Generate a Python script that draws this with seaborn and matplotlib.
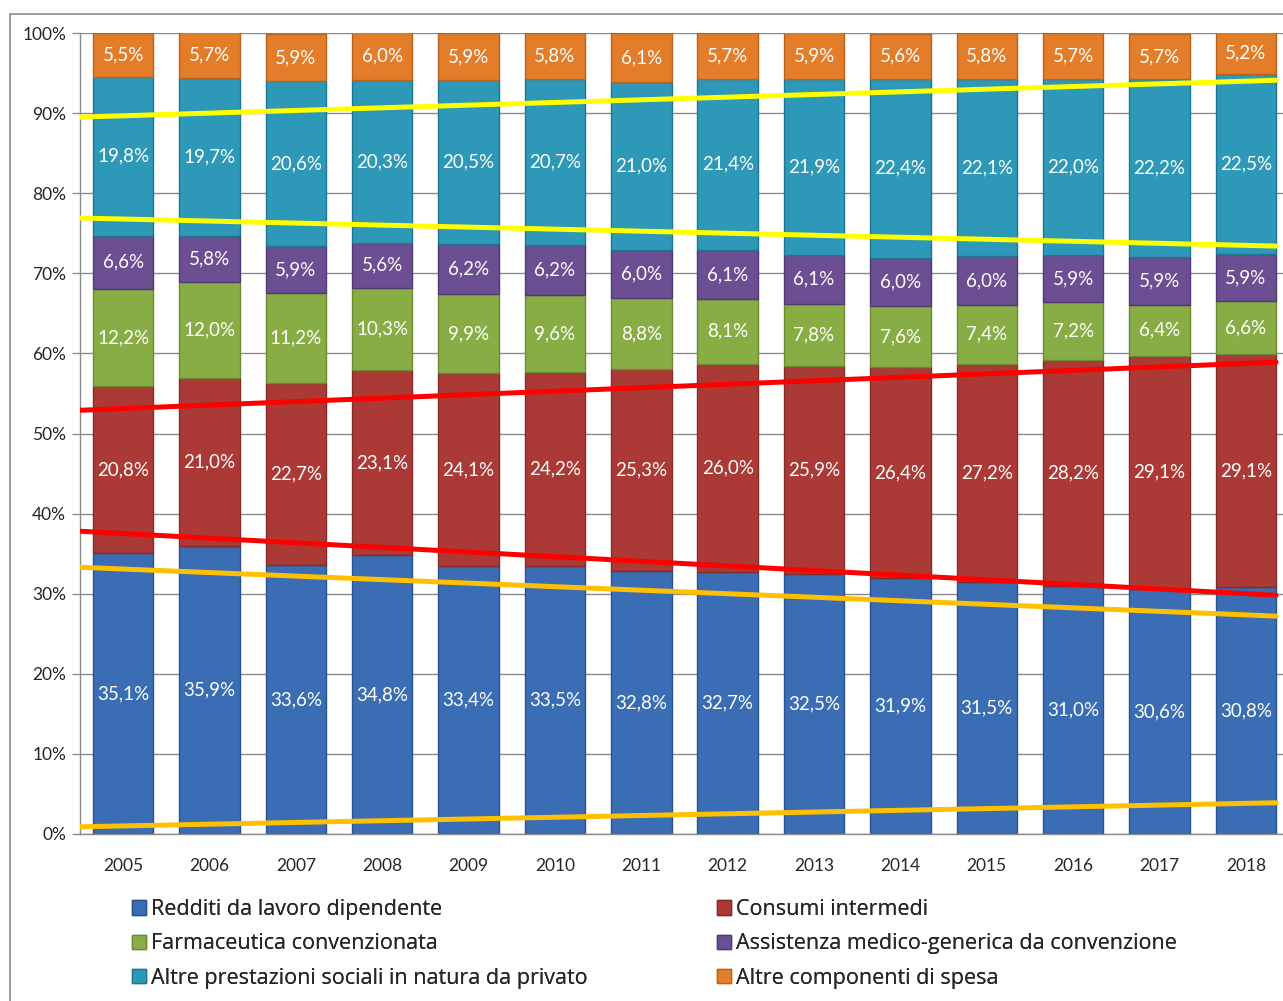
import matplotlib
matplotlib.use("Agg")
import matplotlib.pyplot as plt
import matplotlib.patches as mpatches
import numpy as np
import seaborn as sns

# dati (quote % sulla spesa sanitaria)
anni = ["2005", "2006", "2007", "2008", "2009", "2010", "2011",
        "2012", "2013", "2014", "2015", "2016", "2017", "2018"]

redditi = [35.1, 35.9, 33.6, 34.8, 33.4, 33.5, 32.8, 32.7, 32.5, 31.9, 31.5, 31.0, 30.6, 30.8]
consumi = [20.8, 21.0, 22.7, 23.1, 24.1, 24.2, 25.3, 26.0, 25.9, 26.4, 27.2, 28.2, 29.1, 29.1]
farmaceutica = [12.2, 12.0, 11.2, 10.3, 9.9, 9.6, 8.8, 8.1, 7.8, 7.6, 7.4, 7.2, 6.4, 6.6]
assistenza = [6.6, 5.8, 5.9, 5.6, 6.2, 6.2, 6.0, 6.1, 6.1, 6.0, 6.0, 5.9, 5.9, 5.9]
altre_prest = [19.8, 19.7, 20.6, 20.3, 20.5, 20.7, 21.0, 21.4, 21.9, 22.4, 22.1, 22.0, 22.2, 22.5]
altre_comp = [5.5, 5.7, 5.9, 6.0, 5.9, 5.8, 6.1, 5.7, 5.9, 5.6, 5.8, 5.7, 5.7, 5.2]

serie = ["Redditi da lavoro dipendente", "Consumi intermedi",
         "Farmaceutica convenzionata", "Assistenza medico-generica da convenzione",
         "Altre prestazioni sociali in natura da privato", "Altre componenti di spesa"]
valori = [redditi, consumi, farmaceutica, assistenza, altre_prest, altre_comp]
colori = ["#3a6db3", "#ab3a37", "#89ad45", "#6b4f92", "#2d98b7", "#e47d2a"]
bordi = ["#2a5290", "#842b29", "#6a8a33", "#513a72", "#1f7690", "#b8621d"]

# linee di tendenza (valore iniziale / finale)
trend_inizio = [89.5, 76.9, 52.9, 37.8, 33.3, 0.9]
trend_fine = [94.1, 73.4, 58.9, 29.8, 27.2, 3.9]
trend_colori = ["#ffff00", "#ffff00", "#ff0000", "#ff0000", "#ffc000", "#ffc000"]

sns.set_style("white")
plt.rcParams["font.family"] = ["Lato", "DejaVu Sans"]

fig = plt.figure(figsize=(12.83, 10.01), dpi=100)
# cornice esterna
fig.patches.append(mpatches.Rectangle((10 / 1283, -0.01), 1.0, 1 - 14 / 1001 + 0.01,
                                      transform=fig.transFigure, fill=False,
                                      edgecolor="#8c8c8c", linewidth=1.2))
ax = fig.add_axes([80 / 1283, 167 / 1001, 1209 / 1283, 801 / 1001])

x = np.arange(len(anni))
base = np.zeros(len(anni))
for nome, vals, col, bc in zip(serie, valori, colori, bordi):
    vals = np.array(vals)
    ax.bar(x, vals, bottom=base, width=0.7, color=col, edgecolor=bc,
           linewidth=1.0, label=nome, zorder=2)
    for xi, b, v in zip(x, base, vals):
        ax.text(xi, b + v / 2, f"{v:.1f}%".replace(".", ","), ha="center", va="center",
                color="white", fontsize=13.5, zorder=3)
    base += vals

for a, b, c in zip(trend_inizio, trend_fine, trend_colori):
    ax.plot([-0.5, 13.35], [a, b], color=c, linewidth=3.6, solid_capstyle="round", zorder=4)

ax.set_xlim(-0.5, len(anni) - 0.5)
ax.set_ylim(0, 100)
ax.set_yticks(np.arange(0, 101, 10))
ax.set_yticklabels([f"{t}%" for t in range(0, 101, 10)], fontsize=12.5)
ax.yaxis.grid(True, color="#8a8a8a", linewidth=1.0, zorder=0)
ax.set_axisbelow(True)

ax.set_xticks(x)
ax.set_xticklabels(anni, fontsize=12.5)
ax.set_xticks(np.arange(-0.5, len(anni)), minor=True)
ax.tick_params(axis="x", which="major", length=0, pad=17)
ax.tick_params(axis="x", which="minor", length=8, color="#8a8a8a", width=1)
ax.tick_params(axis="y", length=6, color="#8a8a8a", width=1, left=True, pad=4)

for s in ["top", "right"]:
    ax.spines[s].set_visible(False)
for s in ["left", "bottom"]:
    ax.spines[s].set_color("#8a8a8a")
    ax.spines[s].set_linewidth(1.0)

h, l = ax.get_legend_handles_labels()
for col_idx, xpos in zip([[0, 2, 4], [1, 3, 5]], [132, 717]):
    leg = fig.legend([h[i] for i in col_idx], [l[i] for i in col_idx], ncol=1,
                     loc="upper left", bbox_to_anchor=(xpos / 1283, 1 - 899 / 1001),
                     frameon=False, handlelength=0.65, handleheight=0.65,
                     handletextpad=0.25, labelspacing=0.62,
                     borderaxespad=0, borderpad=0,
                     prop={"family": ["Open Sans", "DejaVu Sans"], "size": 15.5})
    fig.add_artist(leg)

fig.savefig("out.png", dpi=100)
